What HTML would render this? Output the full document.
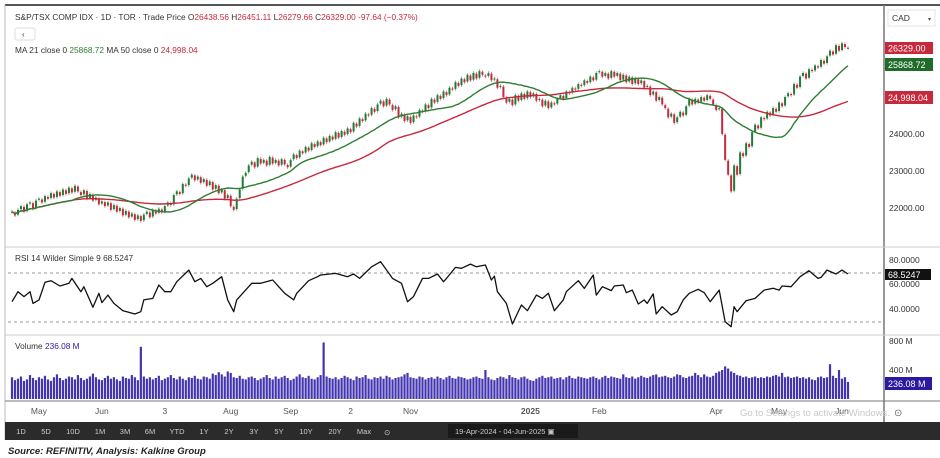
<!DOCTYPE html>
<html><head><meta charset="utf-8">
<style>
html,body{margin:0;padding:0;background:#fff;width:940px;height:458px;overflow:hidden;font-family:"Liberation Sans",sans-serif;}
svg{display:block}
</style></head>
<body>
<svg id="c" width="940" height="458" xmlns="http://www.w3.org/2000/svg" font-family="Liberation Sans, sans-serif">
<rect x="0" y="0" width="940" height="458" fill="#fff"/>
<line x1="5" y1="5" x2="940" y2="5" stroke="#555" stroke-width="2"/>
<line x1="5" y1="5" x2="5" y2="440" stroke="#bbb" stroke-width="1"/>
<line x1="884" y1="5" x2="884" y2="440" stroke="#777" stroke-width="1.5"/>
<line x1="5" y1="247" x2="940" y2="247" stroke="#ccc"/>
<line x1="5" y1="335" x2="940" y2="335" stroke="#ccc"/>
<line x1="5" y1="401" x2="940" y2="401" stroke="#777"/>
<line x1="8" y1="273" x2="884" y2="273" stroke="#999" stroke-dasharray="3,3"/>
<line x1="8" y1="322" x2="884" y2="322" stroke="#999" stroke-dasharray="3,3"/>
<g id="marks"></g>
<text x="15" y="20" font-size="8.3" fill="#333">S&amp;P/TSX COMP IDX · 1D · TOR · Trade Price <tspan fill="#333">O</tspan><tspan fill="#c8283c">26438.56</tspan> H<tspan fill="#c8283c">26451.11</tspan> L<tspan fill="#c8283c">26279.66</tspan> C<tspan fill="#c8283c">26329.00 -97.64 (−0.37%)</tspan></text>
<rect x="15" y="28" width="20" height="12" rx="2" fill="#fff" stroke="#ddd"/>
<text x="22" y="37" font-size="8" fill="#333">‹</text>
<text x="15" y="53" font-size="8.3" fill="#333">MA 21 close 0 <tspan fill="#2e7d32">25868.72</tspan>  MA 50 close 0 <tspan fill="#c8283c">24,998.04</tspan></text>
<text x="15" y="261" font-size="8.3" fill="#333">RSI 14 Wilder Simple 9 68.5247</text>
<text x="15" y="349" font-size="8.3" fill="#333">Volume <tspan fill="#3020a0">236.08 M</tspan></text>
<rect x="888" y="10" width="47" height="16" fill="#fff" stroke="#e4e4e4"/>
<text x="892" y="21" font-size="8.5" fill="#333">CAD</text>
<text x="928" y="21" font-size="6" fill="#555">▾</text>
<g font-size="8.5" fill="#333">
<text x="889" y="137">24000.00</text><text x="889" y="174">23000.00</text><text x="889" y="211">22000.00</text>
<text x="889" y="263">80.0000</text><text x="889" y="287">60.0000</text><text x="889" y="312">40.0000</text>
<text x="889" y="344">800 M</text><text x="889" y="373">400 M</text>
</g>
<rect x="885" y="42" width="48" height="12" fill="#c8283c"/>
<text x="888" y="51.5" font-size="9" fill="#fff">26329.00</text>
<rect x="885" y="58" width="48" height="13" fill="#1e6b2a"/>
<text x="888" y="68" font-size="9" fill="#fff">25868.72</text>
<rect x="885" y="91" width="48" height="13" fill="#c8283c"/>
<text x="888" y="101" font-size="9" fill="#fff">24,998.04</text>
<rect x="885" y="269" width="46" height="11" fill="#111"/>
<text x="888" y="278" font-size="9" fill="#fff">68.5247</text>
<rect x="885" y="377" width="47" height="13" fill="#2a1aa0"/>
<text x="888" y="387" font-size="9" fill="#fff">236.08 M</text>
<g id="xaxis" font-size="8.5" fill="#555"></g>
<text x="740" y="416" font-size="9.5" fill="#c8c8c8">Go to Settings to activate Windows.</text>
<text x="894" y="416" font-size="10" fill="#666">⊙</text>
<rect x="5" y="422" width="935" height="18" fill="#2b2b2b"/>
<g id="tb" font-size="7.5" fill="#ccc"></g>
<rect x="448" y="424" width="130" height="14" fill="#1a1a1a"/>
<text x="455" y="434" font-size="7.5" fill="#ccc">19-Apr-2024  -  04-Jun-2025  ▣</text>
<text x="8" y="454" font-size="9.5" font-weight="bold" font-style="italic" fill="#222">Source: REFINITIV, Analysis: Kalkine Group</text>
</svg>
<script>
const closes=[21900,21800,21950,22050,21900,22100,22150,21980,22200,22250,
22150,22320,22250,22400,22280,22450,22330,22500,22380,22550,
22420,22600,22450,22350,22480,22250,22380,22200,22280,22100,
22180,22050,22150,21950,22080,21900,22000,21800,21920,21750,
21850,21680,21800,21650,21820,21900,21750,21950,21850,21980,
21880,22050,22150,22080,22350,22450,22380,22650,22600,22800,
22900,22750,22850,22680,22780,22600,22720,22500,22620,22400,
22500,22250,22350,22050,21950,22250,22500,22850,22950,23150,
23250,23100,23350,23200,23300,23150,23380,23200,23300,23150,
23320,23180,23100,23300,23450,23350,23550,23480,23650,23550,
23750,23650,23800,23700,23900,23780,23950,23850,24050,23900,
24080,23980,24150,24050,24300,24200,24420,24350,24550,24500,
24700,24600,24800,24900,24750,24950,24800,24650,24750,24450,
24550,24350,24480,24300,24500,24450,24650,24600,24800,24700,
24950,24850,25050,24950,25150,25050,25250,25200,25400,25300,
25500,25400,25600,25450,25650,25500,25700,25600,25550,25650,
25450,25500,25250,25300,25000,24850,24950,24780,25050,24900,
25100,24950,25150,25000,25100,24900,24950,24750,24900,24700,
24850,24800,24950,25050,24950,25150,25100,25250,25200,25350,
25300,25450,25380,25550,25450,25650,25700,25550,25650,25500,
25700,25550,25650,25450,25600,25400,25550,25350,25500,25350,
25450,25250,25300,25050,25150,24900,25000,24800,24700,24450,
24550,24300,24450,24600,24500,24750,24950,24800,24950,24850,
25000,24900,25050,24950,24800,24650,24700,24000,23300,22900,
22450,23150,22900,23500,23400,23750,23650,24050,24250,24150,
24450,24400,24600,24500,24700,24600,24850,24750,25000,25100,
25050,25350,25250,25550,25650,25500,25750,25700,25850,25800,
26000,25900,26100,26250,26150,26400,26250,26450,26350,26329];
const volumes=[300,260,280,310,250,270,330,290,260,300,
280,320,270,250,300,340,290,260,280,310,
300,270,330,290,260,280,310,350,300,270,
260,290,320,280,300,270,250,310,290,280,
330,300,260,720,310,280,300,270,290,320,
260,280,300,330,290,270,310,280,260,300,
290,320,280,270,310,300,280,350,330,370,
340,310,380,360,300,290,320,280,270,300,
310,290,260,280,300,330,290,270,310,280,
300,320,290,260,280,310,340,300,290,320,
280,270,300,330,780,310,290,280,300,270,
290,320,300,280,260,310,290,300,330,280,
270,300,290,310,280,320,300,270,290,300,
310,340,360,300,290,280,310,300,270,290,
300,280,310,290,270,300,320,290,280,310,
300,290,270,280,300,310,290,280,400,300,
270,260,290,310,300,280,330,300,290,270,
300,310,280,260,250,280,300,320,290,300,
310,280,290,300,270,300,320,290,280,310,
300,290,280,300,310,290,270,300,320,290,
310,300,290,280,340,300,290,310,280,300,
320,300,290,310,330,340,300,310,320,300,
290,310,340,330,300,290,310,320,360,330,
300,340,310,300,320,360,380,400,450,420,
380,360,330,320,300,310,290,300,310,290,
300,290,310,300,320,330,310,360,300,310,
290,300,310,290,300,280,300,270,260,300,
310,290,300,480,320,290,400,280,300,236];
const rsiDays=[0,2,4,6,7,9,11,13,16,19,20,23,24,27,29,30,32,34,37,41,43,44,47,49,51,53,55,59,61,63,65,67,70,72,74,75,80,83,87,89,91,94,95,99,102,103,108,112,114,116,120,123,127,130,132,134,137,139,142,144,
145,148,150,153,155,158,160,161,162,165,167,170,172,175,177,179,181,184,185,189,191,194,195,197,200,201,204,205,207,209,211,212,214,215,217,220,222,224,226,229,231,233,236,238,240,241,242,245,248,251,254,256,257,260,263,266,269,270,272,275,277,279];
const rsiValues=[46.6,54.7,50.7,54.7,45.2,48.0,62.4,63.7,59.4,61.6,65.6,54.7,58.8,42.0,53.4,45.8,52.0,45.2,39.2,36.5,38.4,48.0,49.3,60.2,54.7,54.7,62.9,72.4,62.9,65.6,58.8,61.6,67.0,48.0,38.4,48.0,61.6,61.6,64.3,58.8,53.4,48.0,53.4,63.7,67.0,68.4,69.7,67.0,69.2,65.6,75.1,79.2,65.6,61.6,46.6,50.7,65.6,65.6,69.2,62.9,
65.6,74.6,73.8,77.3,75.1,76.5,64.3,67.5,54.7,45.2,28.4,43.9,39.2,52.0,49.3,53.4,39.2,48.0,54.7,63.7,57.4,68.4,52.0,58.8,55.6,59.4,60.2,53.9,56.0,44.7,48.0,45.2,52.9,36.5,42.5,35.7,38.4,48.0,53.4,56.7,53.9,46.6,56.0,30.3,26.2,42.5,38.4,47.4,49.3,56.0,57.5,56.0,59.4,58.8,67.0,71.9,65.6,66.4,72.4,69.2,72.4,69.2];
const xTicks=["May","Jun","3","Aug","Sep","2","Nov","2025","Feb","Apr","May","Jun"];
const xTickIdx=[9,30,51,73,93,113,133,173,196,235,256,277];
const ranges=["1D","5D","10D","1M","3M","6M","YTD","1Y","2Y","3Y","5Y","10Y","20Y","Max"];

const N=closes.length;
const xS=i=>12+i*(836/(N-1));
const yP=p=>134-(p-24000)*0.037;
const yR=r=>322-(r-30)*1.225;
const yV=v=>399-v*0.0725;
const NS="http://www.w3.org/2000/svg";
const g=document.getElementById('marks');
function mk(t,a,parent){const e=document.createElementNS(NS,t);for(const k in a)e.setAttribute(k,a[k]);(parent||g).appendChild(e);return e;}

for(let i=0;i<N;i++){
  const r=mk('rect',{x:xS(i)-1.1,y:yV(volumes[i]),width:2.2,height:399-yV(volumes[i]),fill:'#4434b0'});
  
  
}
for(let i=0;i<N;i++){
  const c=closes[i];
  const prev=i>0?closes[i-1]:c-20;
  const o=prev+(c>=prev?20:-20);
  const hi=Math.max(o,c)+45,lo=Math.min(o,c)-45;
  const up=c>=o;const col=up?'#1f7a34':'#c8283c';
  const w=mk('line',{x1:xS(i),x2:xS(i),y1:yP(hi),y2:yP(lo),stroke:col,'stroke-width':0.8,opacity:0.7});
  
  
  const top=yP(Math.max(o,c)),bot=yP(Math.min(o,c));
  const b=mk('rect',{x:xS(i)-1,y:top,width:2,height:Math.max(1,bot-top),fill:col});
  
  
}
function ma(n){const out=[];for(let i=0;i<N;i++){const s=Math.max(0,i-n+1);let t=0;for(let j=s;j<=i;j++)t+=closes[j];out.push(t/(i-s+1));}return out;}
function pathOf(arr,fy){return arr.map((v,i)=>(i?'L':'M')+xS(i).toFixed(1)+' '+fy(v).toFixed(1)).join(' ');}
const ma50=ma(50),ma21=ma(21);
const p50=mk('path',{d:pathOf(ma50,yP),fill:'none',stroke:'#c8283c','stroke-width':1.4});


const p21=mk('path',{d:pathOf(ma21,yP),fill:'none',stroke:'#2e7d32','stroke-width':1.4});


const pr=mk('path',{d:rsiValues.map((v,k)=>(k?'L':'M')+xS(rsiDays[k]).toFixed(1)+' '+yR(v).toFixed(1)).join(' '),fill:'none',stroke:'#111','stroke-width':1.3,'stroke-linejoin':'round'});


const xa=document.getElementById('xaxis');
xTicks.forEach((t,k)=>{
  const e=mk('text',{x:xS(xTickIdx[k]),y:414,'text-anchor':'middle','font-weight':t==='2025'?'bold':'normal'},xa);
  e.textContent=t;
  
  
});
const tb=document.getElementById('tb');
let bx=10;
ranges.forEach(r=>{
  const w=r.length>2?26:22;
  const e=mk('text',{x:bx+w/2,y:434,'text-anchor':'middle'},tb);
  e.textContent=r;
  
  
  bx+=w+3;
});
const gear=mk('text',{x:bx+4,y:435},tb);gear.textContent='⊙';


</script>
</body></html>
